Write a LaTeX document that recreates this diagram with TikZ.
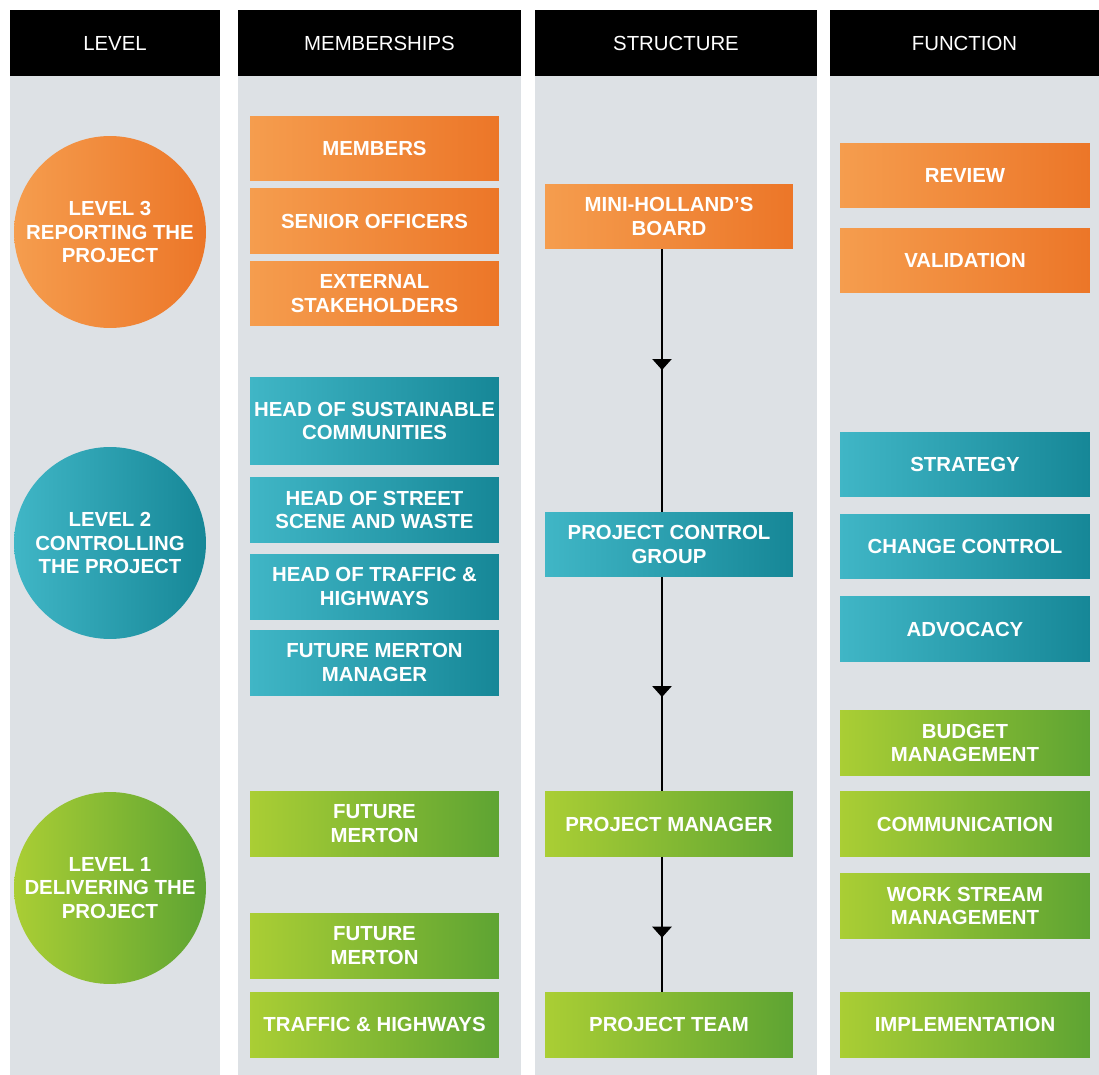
\documentclass[tikz,border=0pt]{standalone}
\usepackage{fontspec}
\setmainfont{Liberation Sans}
\usetikzlibrary{arrows.meta,decorations.markings}

\definecolor{lanegray}{HTML}{DDE1E5}
\definecolor{orangeL}{HTML}{F59D4E}
\definecolor{orangeR}{HTML}{EC7628}
\definecolor{tealL}{HTML}{40B6C6}
\definecolor{tealR}{HTML}{168797}
\definecolor{greenL}{HTML}{AACE34}
\definecolor{greenR}{HTML}{5EA433}

\tikzset{
	lane/.style={fill=lanegray, draw=none},
	colhead/.style={fill=black, text=white, minimum height=1.32cm, inner sep=0pt,
		font=\fontsize{11.6}{13.6}\selectfont},
	box/.style={rectangle, minimum height=1.3cm, inner sep=0pt, align=center, text=white,
		font=\fontsize{11.6}{13.6}\selectfont\bfseries},
	membox/.style={box, minimum width=4.98cm},
	strbox/.style={box, minimum width=4.96cm},
	funbox/.style={box, minimum width=5cm},
	lvl/.style={circle, minimum size=3.84cm, inner sep=0pt, align=center, text=white,
		font=\fontsize{11.6}{13.6}\selectfont\bfseries},
	orng/.style={left color=orangeL, right color=orangeR},
	teal/.style={left color=tealL, right color=tealR},
	grn/.style={left color=greenL, right color=greenR},
	link/.style={line width=1.4pt},
	midarrow/.style={postaction={decorate}, decoration={markings,
		mark=at position #1 with {\arrow{Triangle[width=0.38cm,length=0.22cm]}}}}
}

\begin{document}
\begin{tikzpicture}[x=0.02cm, y=-0.02cm]
	\fill[white] (0,0) rectangle (1099,1075);
	\useasboundingbox (0,0) rectangle (1099,1075);

	% columns
	\fill[lane] (10,76) rectangle (220,1075);
	\fill[lane] (238,76) rectangle (521,1075);
	\fill[lane] (535,76) rectangle (817,1075);
	\fill[lane] (830,76) rectangle (1099,1075);

	\node[colhead, minimum width=4.2cm] (hlevel) at (115,43) {LEVEL};
	\node[colhead, minimum width=5.66cm] (hmember) at (379.5,43) {MEMBERSHIPS};
	\node[colhead, minimum width=5.64cm] (hstruct) at (676,43) {STRUCTURE};
	\node[colhead, minimum width=5.38cm] (hfunc) at (964.5,43) {FUNCTION};

	% levels
	\node[lvl, orng] (lvlthree) at (110,232) {LEVEL 3\\REPORTING THE\\PROJECT};
	\node[lvl, teal] (lvltwo) at (110,543) {LEVEL 2\\CONTROLLING\\THE PROJECT};
	\node[lvl, grn] (lvlone) at (110,888) {LEVEL 1\\DELIVERING THE\\PROJECT};

	% memberships
	\node[membox, orng] (members) at (374.5,148.5) {MEMBERS};
	\node[membox, orng] (senior) at (374.5,221) {SENIOR OFFICERS};
	\node[membox, orng] (external) at (374.5,293.5) {EXTERNAL\\STAKEHOLDERS};
	\node[membox, teal, minimum height=1.76cm] (sustain) at (374.5,421) {HEAD OF SUSTAINABLE\\COMMUNITIES};
	\node[membox, teal] (street) at (374.5,510) {HEAD OF STREET\\SCENE AND WASTE};
	\node[membox, teal] (traffic) at (374.5,586.5) {HEAD OF TRAFFIC \&\\HIGHWAYS};
	\node[membox, teal] (fmmanager) at (374.5,662.5) {FUTURE MERTON\\MANAGER};
	\node[membox, grn] (fmone) at (374.5,824) {FUTURE\\MERTON};
	\node[membox, grn] (fmtwo) at (374.5,946) {FUTURE\\MERTON};
	\node[membox, grn] (highways) at (374.5,1024.5) {TRAFFIC \& HIGHWAYS};

	% structure
	\node[strbox, orng] (board) at (669,216.5) {MINI-HOLLAND'S\\BOARD};
	\node[strbox, teal] (pcg) at (669,544.5) {PROJECT CONTROL\\GROUP};
	\node[strbox, grn] (pm) at (669,824) {PROJECT MANAGER};
	\node[strbox, grn] (team) at (669,1024.5) {PROJECT TEAM};

	\draw[link, midarrow=0.46] ([xshift=-0.14cm]board.south) -- ([xshift=-0.14cm]pcg.north);
	\draw[link, midarrow=0.56] ([xshift=-0.14cm]pcg.south) -- ([xshift=-0.14cm]pm.north);
	\draw[link, midarrow=0.6] ([xshift=-0.14cm]pm.south) -- ([xshift=-0.14cm]team.north);

	% functions
	\node[funbox, orng] (review) at (965,175.5) {REVIEW};
	\node[funbox, orng] (valid) at (965,260.5) {VALIDATION};
	\node[funbox, teal] (strategy) at (965,464.5) {STRATEGY};
	\node[funbox, teal] (change) at (965,546.5) {CHANGE CONTROL};
	\node[funbox, teal] (advocacy) at (965,629) {ADVOCACY};
	\node[funbox, grn] (budget) at (965,743) {BUDGET\\MANAGEMENT};
	\node[funbox, grn] (comm) at (965,824) {COMMUNICATION};
	\node[funbox, grn] (stream) at (965,906) {WORK STREAM\\MANAGEMENT};
	\node[funbox, grn] (impl) at (965,1024.5) {IMPLEMENTATION};
\end{tikzpicture}
\end{document}
